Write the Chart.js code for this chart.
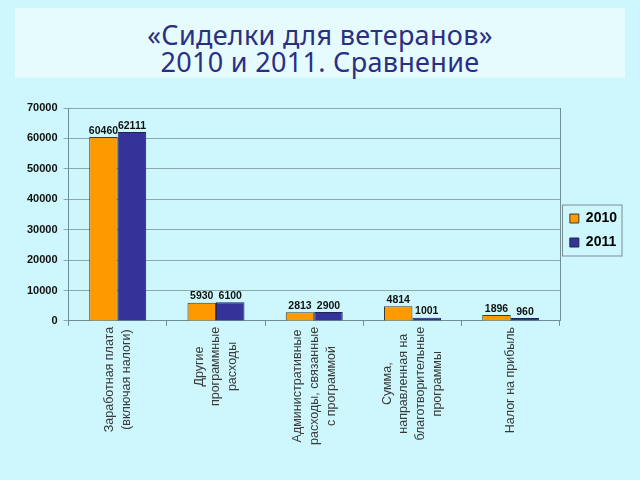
<!DOCTYPE html>
<html>
<head>
<meta charset="utf-8">
<script src="https://cdn.jsdelivr.net/npm/chart.js@4"></script>
<style>
  html, body { margin: 0; padding: 0; }
  body { width: 640px; height: 480px; background: #cdf7fc; position: relative; overflow: hidden; }
  #titlebox { position: absolute; left: 15px; top: 8px; width: 610px; height: 70px; background: #e6fbfd;
    color: #2b2f84; font-family: "Noto Sans", sans-serif; font-size: 27px; line-height: 27px;
    text-align: center; box-sizing: border-box; padding-top: 13px; letter-spacing: 0.3px; }
  #wrap { position: absolute; left: 0; top: 0; width: 640px; height: 480px; }
</style>
</head>
<body>
<div id="titlebox">«Сиделки для ветеранов»<br>2010 и 2011. Сравнение</div>
<div id="wrap"><canvas id="c" width="640" height="480"></canvas></div>
<script>
const categories = [
  ["Заработная плата", "(включая налоги)"],
  ["Другие", "программные", "расходы"],
  ["Административные", "расходы, связанные", "с программой"],
  ["Сумма,", "направленная на", "благотворительные", "программы"],
  ["Налог на прибыль"]
];
const seriesNames = ["2010", "2011"];
const values2010 = [60460, 5930, 2813, 4814, 1896];
const values2011 = [62111, 6100, 2900, 1001, 960];
const yTicks = [0, 10000, 20000, 30000, 40000, 50000, 60000, 70000];

const valueLabels = {
  id: 'valueLabels',
  afterDatasetsDraw(chart) {
    const ctx = chart.ctx;
    ctx.save();
    ctx.font = 'bold 10.5px "Liberation Sans", Arial, sans-serif';
    ctx.fillStyle = '#111';
    ctx.textAlign = 'center';
    ctx.textBaseline = 'bottom';
    chart.data.datasets.forEach((ds, di) => {
      const meta = chart.getDatasetMeta(di);
      meta.data.forEach((bar, i) => {
        ctx.fillText(String(ds.data[i]), bar.x, bar.y - 1);
      });
    });
    ctx.restore();
  }
};

const frame = {
  id: 'frame',
  afterLayout(chart) {
    const lg = chart.legend;
    if (lg) { lg.top = 201; lg.bottom = 260; }
    const sx = chart.scales.x;
    if (sx && !sx._centeredLabels) {
      const orig = sx._computeLabelItems.bind(sx);
      sx._computeLabelItems = function (ca) {
        const items = orig(ca);
        const ctx = chart.ctx;
        ctx.save();
        items.forEach(it => {
          const lines = Array.isArray(it.label) ? it.label : [it.label];
          ctx.font = it.font.string;
          const maxW = Math.max(...lines.map(l => ctx.measureText(l).width));
          const lh = it.font.lineHeight;
          const t = it.options.translation;
          it.options.translation = [t[0] - (lines.length - 1) * lh / 2, t[1] + maxW / 2];
          it.options.textAlign = 'center';
        });
        ctx.restore();
        return items;
      };
      sx._centeredLabels = true;
    }
  },
  afterDraw(chart) {
    const ctx = chart.ctx, a = chart.chartArea;
    ctx.save();
    ctx.strokeStyle = '#6f8f94';
    ctx.lineWidth = 1;
    ctx.beginPath();
    ctx.moveTo(Math.round(a.right) + 0.5, a.top);
    ctx.lineTo(Math.round(a.right) + 0.5, a.bottom);
    ctx.stroke();
    const lg = chart.legend;
    if (lg && lg.legendHitBoxes && lg.legendHitBoxes.length) {
      const hb = lg.legendHitBoxes;
      const x0 = Math.round(a.right) + 2.5;
      const y0 = hb[0].top - 6.5;
      const y1 = hb[hb.length - 1].top + hb[hb.length - 1].height + 6.5;
      ctx.strokeStyle = '#7a8f93';
      ctx.strokeRect(x0, y0, 622 - x0, y1 - y0);
    }
    ctx.restore();
  }
};

new Chart(document.getElementById('c'), {
  type: 'bar',
  data: {
    labels: categories,
    datasets: [
      { label: seriesNames[0], data: values2010, backgroundColor: '#ff9900', borderColor: '#3a3a3a', borderWidth: 1 },
      { label: seriesNames[1], data: values2011, backgroundColor: '#333399', borderColor: '#222255', borderWidth: 1 }
    ]
  },
  options: {
    responsive: false,
    animation: false,
    devicePixelRatio: 1,
    categoryPercentage: 0.58,
    barPercentage: 1.0,
    layout: { padding: { top: 108, left: 21, right: 13, bottom: 34 } },
    plugins: {
      title: { display: false },
      tooltip: { enabled: false },
      legend: {
        display: true,
        position: 'right',
        align: 'center',
        labels: {
          boxWidth: 9, boxHeight: 9, padding: 10,
          color: '#000',
          font: { family: '"Liberation Sans", Arial, sans-serif', size: 14, weight: 'bold' }
        }
      }
    },
    scales: {
      x: {
        offset: true,
        grid: { offset: true, drawOnChartArea: false, drawTicks: true, tickLength: 5, color: '#6f8f94' },
        border: { display: true, color: '#6f8f94' },
        ticks: {
          minRotation: 90, maxRotation: 90, padding: 1, autoSkip: false,
          color: '#3a3a3a',
          font: { family: '"Liberation Sans", Arial, sans-serif', size: 12.5, lineHeight: 1.35 }
        }
      },
      y: {
        min: 0, max: 70000,
        afterBuildTicks(scale) { scale.ticks = yTicks.map(v => ({ value: v })); },
        grid: { color: '#8aa9ad', tickLength: 5, drawTicks: true },
        border: { display: true, color: '#6f8f94' },
        ticks: {
          padding: 6,
          color: '#111',
          callback: (v) => String(v),
          font: { family: '"Liberation Sans", Arial, sans-serif', size: 11, weight: 'bold' }
        }
      }
    }
  },
  plugins: [valueLabels, frame]
});
</script>
</body>
</html>
